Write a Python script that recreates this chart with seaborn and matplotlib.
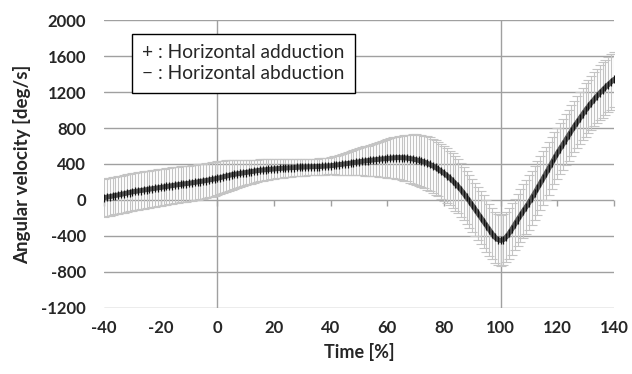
import numpy as np
import pandas as pd
import matplotlib
matplotlib.use("Agg")
import matplotlib.pyplot as plt
import seaborn as sns

# ---- data ----
time_pct = list(range(-40, 141))

mean_vel = [
    25, 31, 37, 43, 49, 55, 62, 69, 76, 83,            # -40..-31
    90, 95, 100, 105, 110, 115, 120, 125, 130, 135,    # -30..-21
    140, 145, 150, 155, 160, 165, 169, 173, 177, 181,  # -20..-11
    185, 190, 195, 200, 205, 210, 216, 222, 228, 234,  # -10..-1
    240, 248, 256, 264, 272, 280, 285, 290, 295, 300,  # 0..9
    305, 310, 315, 320, 325, 330, 333, 336, 339, 342,  # 10..19
    345, 348, 350, 353, 355, 358, 360, 361, 362, 364,  # 20..29
    365, 366, 367, 368, 369, 370, 372, 374, 376, 378,  # 30..39
    380, 384, 388, 392, 396, 400, 405, 410, 415, 420,  # 40..49
    425, 429, 433, 437, 441, 445, 449, 452, 455, 459,  # 50..59
    462, 465, 468, 470, 471, 470, 468, 465, 460, 455,  # 60..69
    448, 440, 432, 422, 410, 395, 380, 362, 342, 320,  # 70..79
    297, 272, 245, 215, 183, 150, 112, 72, 30, -14,    # 80..89
    -58, -105, -150, -195, -240, -285, -330, -375, -415, -440,  # 90..99
    -450, -440, -410, -370, -322, -270, -220, -170, -122, -76,  # 100..109
    -30, 22, 76, 130, 185, 240, 296, 352, 408, 464,    # 110..119
    520, 570, 620, 670, 720, 770, 818, 864, 910, 955,  # 120..129
    1000, 1040, 1080, 1118, 1155, 1190, 1222, 1253, 1283, 1312,  # 130..139
    1340,                                              # 140
]

sd_vel = [
    210, 210, 210, 210, 210, 210, 210, 210, 210, 210,
    210, 210, 209, 209, 208, 208, 207, 207, 206, 206,
    205, 204, 204, 203, 202, 202, 201, 200, 199, 199,
    198, 197, 196, 196, 195, 194, 193, 192, 192, 191,
    190, 185, 180, 175, 170, 165, 160, 155, 150, 145,
    140, 136, 132, 128, 124, 120, 118, 116, 114, 112,
    110, 108, 106, 104, 102, 100, 99, 98, 97, 96,
    95, 94, 93, 92, 91, 90, 91, 92, 93, 94,
    95, 100, 105, 110, 115, 120, 126, 132, 138, 144,
    150, 156, 162, 168, 174, 180, 187, 194, 201, 208,
    215, 221, 227, 233, 239, 245, 252, 259, 266, 273,
    280, 284, 288, 292, 296, 300, 301, 302, 303, 304,
    305, 304, 303, 302, 301, 300, 299, 298, 297, 296,
    295, 294, 293, 292, 291, 290, 288, 286, 284, 282,
    280, 281, 282, 283, 284, 285, 289, 293, 297, 301,
    305, 304, 303, 302, 301, 300, 297, 294, 291, 288,
    285, 285, 285, 285, 285, 285, 287, 289, 291, 293,
    295, 297, 299, 301, 303, 305, 306, 307, 308, 309,
    310,
]

x_ticks = [-40, -20, 0, 20, 40, 60, 80, 100, 120, 140]
y_ticks = [-1200, -800, -400, 0, 400, 800, 1200, 1600, 2000]
v_grid = [0, 100]
legend_lines = ["+ : Horizontal adduction", "\u2212 : Horizontal abduction"]

df = pd.DataFrame({"time": time_pct, "mean": mean_vel, "sd": sd_vel})

# ---- style ----
sns.set_theme(style="white")
plt.rcParams["font.family"] = ["Lato", "DejaVu Sans"]
plt.rcParams["axes.unicode_minus"] = False

fig = plt.figure(figsize=(6.32, 3.74), dpi=100)
ax = fig.add_axes([0.1646, 0.1765, 0.8069, 0.77])

grid_col = "#a0a0a0"
for yv in y_ticks:
    ax.axhline(yv, color=grid_col, lw=1.0, zorder=0)
for xv in v_grid:
    ax.axvline(xv, color=grid_col, lw=1.0, zorder=0)

ax.errorbar(df["time"], df["mean"], yerr=df["sd"], fmt="none",
            ecolor="#c4c4c4", elinewidth=0.8, capsize=3.4, capthick=0.8, zorder=2)

sns.lineplot(data=df, x="time", y="mean", ax=ax, color="#585858", lw=3.6,
             marker="|", markersize=6, markeredgecolor="#111111",
             markeredgewidth=0.9, zorder=3)

ax.set_xlim(-40, 140)
ax.set_ylim(-1200, 2000)
ax.set_xticks(x_ticks)
ax.set_yticks(y_ticks)
for s in ax.spines.values():
    s.set_visible(False)
ax.tick_params(axis="y", length=0, labelsize=12, pad=13)
ax.tick_params(axis="x", length=0, labelsize=12, pad=9)
for lab in ax.get_xticklabels() + ax.get_yticklabels():
    lab.set_fontweight("bold")
ax.set_xlabel("Time [%]", fontsize=13, fontweight="bold", labelpad=5)
ax.set_ylabel("Angular velocity [deg/s]", fontsize=13.5, fontweight="bold", labelpad=7)

# x axis line with ticks at y = 0
sec = ax.secondary_xaxis(1200 / 3200)
sec.set_xticks(x_ticks)
sec.tick_params(axis="x", direction="out", length=4.5, color=grid_col,
                width=1.0, labelbottom=False, labeltop=False, top=False, bottom=True)
sec.spines["bottom"].set_visible(False)
sec.spines["top"].set_visible(False)

ax.text(0.075, 0.915, "\n".join(legend_lines), transform=ax.transAxes,
        ha="left", va="top", fontsize=13.8, linespacing=1.25,
        bbox=dict(boxstyle="square,pad=0.55", facecolor="white",
                  edgecolor="black", lw=1.0), zorder=5)

fig.savefig("out.png", dpi=100)
